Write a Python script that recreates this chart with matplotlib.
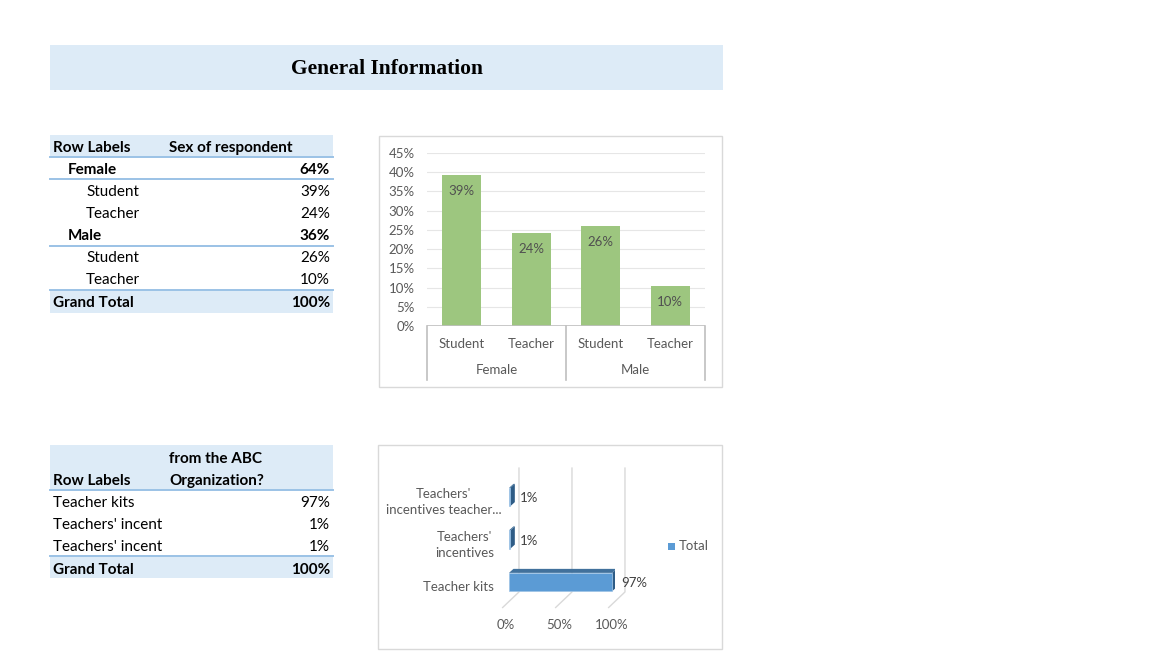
import numpy as np
import matplotlib
matplotlib.use("Agg")
import matplotlib.pyplot as plt
from matplotlib.patches import Rectangle, Polygon
from matplotlib.ticker import PercentFormatter

plt.rcParams['font.family'] = ['Lato', 'DejaVu Sans']

# data
sex_groups = ["Female", "Male"]
roles = ["Student", "Teacher"]
sex_role_share = [0.394, 0.243, 0.259, 0.104]   # Female-Student, Female-Teacher, Male-Student, Male-Teacher

support_labels = ["Teacher kits", "Teachers' incent", "Teachers' incent"]
support_axis_labels = ["Teacher kits", "Teachers'\nincentives", "Teachers'\nincentives teacher..."]
support_share = [0.974, 0.013, 0.013]

W, H = 1152, 664
fig = plt.figure(figsize=(W / 100, H / 100), dpi=100)
fig.patch.set_facecolor("white")

# full-page overlay in pixel coordinates
page = fig.add_axes([0, 0, 1, 1])
page.set_xlim(0, W)
page.set_ylim(H, 0)
page.axis("off")

HDR_BG = "#DDEBF7"
LINE = "#9BC2E6"
TXT = 11
CH = 9.5   # chart font size

# title band
page.add_patch(Rectangle((50, 45), 673, 45, color=HDR_BG, lw=0))
page.text(387, 68.5, "General Information", ha="center", va="center",
          family="Liberation Serif", fontweight="bold", fontsize=15.5)


def pct(v):
    return f"{v * 100:.0f}%"


def row(xx, yy, s, bold=False, ha="left"):
    page.text(xx, yy + 1.8, s, va="center", ha=ha, fontsize=TXT,
              fontweight="bold" if bold else "normal")


# ---- table 1: sex of respondent ----
page.add_patch(Rectangle((50, 135), 283, 22, color=HDR_BG, lw=0))
page.add_patch(Rectangle((50, 290), 283, 23, color=HDR_BG, lw=0))
row(53, 146, "Row Labels", True)
row(169, 146, "Sex of respondent", True)

y = 168
for gi, grp in enumerate(sex_groups):
    vals = sex_role_share[gi * 2:gi * 2 + 2]
    row(68, y, grp, True)
    row(330, y, pct(sum(vals)), True, "right")
    y += 22
    for role, v in zip(roles, vals):
        row(86, y, role)
        row(330, y, pct(v), ha="right")
        y += 22
for ly in [157, 179, 246, 290]:
    page.plot([50, 333], [ly, ly], color=LINE, lw=1.4)
row(53, 301, "Grand Total", True)
row(330, 301, pct(sum(sex_role_share)), True, "right")

# ---- table 2: support from organization ----
page.add_patch(Rectangle((50, 445), 283, 45, color=HDR_BG, lw=0))
page.add_patch(Rectangle((50, 556), 283, 22, color=HDR_BG, lw=0))
page.plot([50, 333], [490, 490], color=LINE, lw=1.4)
page.plot([50, 333], [556, 556], color=LINE, lw=1.4)
row(169, 457, "from the ABC", True)
row(53, 479, "Row Labels", True)
row(169, 479, "Organization?", True)
for k, (lab, v) in enumerate(zip(support_labels, support_share)):
    yy = 501 + 22 * k
    row(53, yy, lab)
    row(330, yy, pct(v), ha="right")
row(53, 568, "Grand Total", True)
row(330, 568, pct(sum(support_share)), True, "right")

# chart frames
page.add_patch(Rectangle((379, 136), 343, 251, facecolor="white", edgecolor="#D9D9D9", lw=1))
page.add_patch(Rectangle((378, 445), 344, 204, facecolor="white", edgecolor="#D9D9D9", lw=1))


def axes_px(x0, y0, x1, y1):
    return fig.add_axes([x0 / W, 1 - y1 / H, (x1 - x0) / W, (y1 - y0) / H])


# ---- chart 1: column chart ----
ax1 = axes_px(427, 153, 705, 326)
ax1.set_facecolor("none")
x = np.arange(len(sex_role_share))
ax1.bar(x, sex_role_share, width=0.56, color="#9DC67F", zorder=2)
ax1.set_xlim(-0.5, 3.5)
ax1.set_ylim(0, 0.45)
ax1.set_yticks(np.arange(0, 0.451, 0.05))
ax1.yaxis.set_major_formatter(PercentFormatter(1.0, decimals=0))
ax1.grid(axis="y", color="#E6E6E6", lw=0.8, zorder=0)
for s in ax1.spines.values():
    s.set_visible(False)
ax1.axhline(0, color="#BFBFBF", lw=1.2, zorder=3)
ax1.tick_params(axis="y", length=0, pad=9, labelsize=CH, labelcolor="#595959")
ax1.set_xticks(x)
ax1.set_xticklabels(roles * 2)
ax1.tick_params(axis="x", length=0, pad=9, labelsize=CH, labelcolor="#595959")
for xi, v in zip(x, sex_role_share):
    ax1.annotate(pct(v), (xi, v), xytext=(0, -11.5), textcoords="offset points",
                 ha="center", va="center", fontsize=CH, color="#505050", zorder=4)
tr = ax1.get_xaxis_transform()
for sep in [-0.5, 1.5, 3.5]:
    ax1.plot([sep, sep], [0, -0.312], transform=tr, color="#BFBFBF", lw=1.2, clip_on=False)
for gi, grp in enumerate(sex_groups):
    ax1.text(gi * 2 + 0.5, -0.254, grp, transform=tr, ha="center", va="center",
             fontsize=CH, color="#595959")

# ---- chart 2: 3-D style bar chart ----
ax2 = axes_px(509, 460, 615, 610)
ax2.set_facecolor("none")
ax2.set_xlim(0, 1)
ax2.set_ylim((582 - 610) / 42.5, (582 - 460) / 42.5)
ax2.axis("off")
dx, dy = 0.042, 0.094
wall_dx = 0.094
for g in [0, 0.5, 1.0]:
    ax2.plot([g + wall_dx, g + wall_dx, g - 0.06], [2.68, -0.235, -0.6],
             color="#D9D9D9", lw=1, clip_on=False, zorder=1)
    ax2.text(g - 0.03, -1.01, f"{g:.0%}", ha="center", va="center", fontsize=CH,
             color="#595959", clip_on=False)
hh = 0.215
label_x = [-0.14, -0.14, -0.07]
for i, v in enumerate(support_share):
    ax2.add_patch(Polygon([(0, i + hh), (v, i + hh), (v + dx, i + hh + dy), (dx, i + hh + dy)],
                          closed=True, facecolor="#41719C", edgecolor="none", zorder=3))
    ax2.add_patch(Polygon([(v, i - hh), (v + dx, i - hh + dy), (v + dx, i + hh + dy), (v, i + hh)],
                          closed=True, facecolor="#2E5C86", edgecolor="none", zorder=3))
    ax2.add_patch(Rectangle((0, i - hh), v, 2 * hh, facecolor="#5B9BD5",
                            edgecolor="#9DC3E6", lw=0.5, zorder=4))
    ax2.text(v + dx + 0.045, i - 0.03, pct(v), ha="left", va="center", fontsize=CH,
             color="#404040", clip_on=False)
    ax2.text(label_x[i], i - 0.12, support_axis_labels[i], ha="right", va="center",
             multialignment="center", fontsize=CH, color="#595959", clip_on=False,
             linespacing=1.4)

# legend
page.add_patch(Rectangle((668, 543), 7, 7, color="#5B9BD5", lw=0))
page.text(679, 546.5, "Total", va="center", fontsize=CH, color="#595959")

fig.savefig("out.png", dpi=100)
